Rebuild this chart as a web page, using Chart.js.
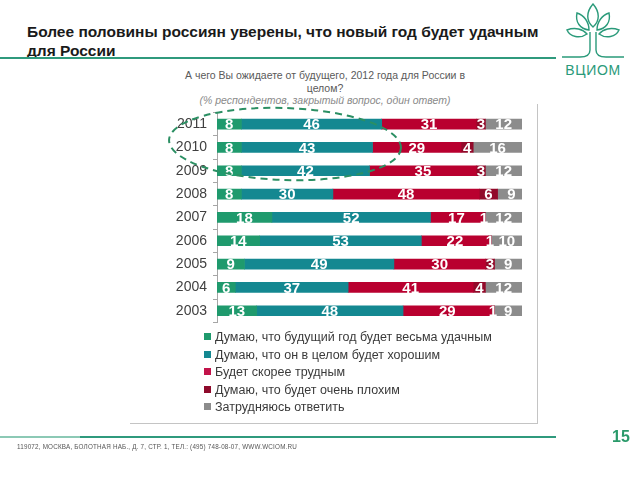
<!DOCTYPE html>
<html lang="ru">
<head>
<meta charset="utf-8">
<title>ВЦИОМ — ожидания от 2012 года</title>
<script src="https://cdn.jsdelivr.net/npm/chart.js@4.4.1/dist/chart.umd.min.js"></script>
<style>
  html, body { margin: 0; padding: 0; background: #fff; }
  body { width: 640px; height: 480px; position: relative; overflow: hidden; font-family: "Liberation Sans", Arial, sans-serif; }
  .title { position: absolute; left: 27px; top: 22px; font-size: 15.5px; font-weight: bold; color: #1a1a1a; line-height: 19px; }
  .rule { position: absolute; left: 0; width: 556px; height: 2px; background: #2f9a7d; }
  .rule.top { top: 57px; }
  .rule.bottom { top: 436px; }
  .rule .lite { position: absolute; left: 0; top: 0; width: 80px; height: 2px; background: #8cc9b5; }
  .question { position: absolute; left: 145px; width: 360px; top: 69px; text-align: center; font-size: 10.5px; color: #5a5a5a; line-height: 12.5px; }
  .question i { color: #8a8a8a; }
  .box { position: absolute; left: 130px; top: 104px; width: 407px; height: 319px; border-right: 1px solid #c4c4c4; border-bottom: 1px solid #c4c4c4; }
  #chartWrap { position: absolute; left: 130px; top: 112px; width: 400px; height: 210px; }
  #legend { position: absolute; left: 204px; top: 329px; font-size: 12.5px; color: #3a3a3a; }
  #legend div { height: 17.6px; line-height: 17.6px; white-space: nowrap; }
  #legend span { display: inline-block; width: 7px; height: 7px; margin-right: 4px; vertical-align: 1px; }
  .oval { position: absolute; left: 0; top: 0; pointer-events: none; }
  .footer { position: absolute; left: 17px; top: 443px; font-size: 6.3px; color: #555; letter-spacing: 0.2px; }
  .page { position: absolute; left: 612px; top: 428px; font-size: 16px; font-weight: bold; color: #2a9a6a; }
  .logo { position: absolute; left: 556px; top: 2px; }
</style>
</head>
<body>

<div class="title">Более половины россиян уверены, что новый год будет удачным<br>для России</div>
<div class="rule top"></div>

<svg class="logo" width="80" height="78" viewBox="0 0 80 78">
  <g fill="none" stroke="#2a9a7a" stroke-width="1.4">
    <path d="M37 2 C30 10 30 19 37 25 C44 19 44 10 37 2 Z"/>
    <path d="M21 11 C19 20 24 27 33 28 C33 20 28 13 21 11 Z"/>
    <path d="M53 11 C55 20 50 27 41 28 C41 20 46 13 53 11 Z"/>
    <path d="M11 28 C14 35 24 37 31 32 C27 27 19 25 11 28 Z"/>
    <path d="M63 28 C60 35 50 37 43 32 C47 27 55 25 63 28 Z"/>
    <path d="M34 30 L34 48 C34 53 30 55 24 55 L6 55"/>
    <path d="M40 30 L40 48 C40 53 44 55 50 55 L68 55"/>
  </g>
  <text x="37" y="73" text-anchor="middle" font-family="Liberation Sans, Arial, sans-serif" font-size="14" fill="#2a9a7a" letter-spacing="0.6">ВЦИОМ</text>
</svg>

<div class="question">А чего Вы ожидаете от будущего, 2012 года для России в<br>целом?<br><i>(% респондентов, закрытый вопрос, один ответ)</i></div>

<div class="box"></div>
<div id="chartWrap"><canvas id="chartExpect"></canvas></div>
<div id="legend"></div>

<svg class="oval" width="640" height="480">
  <ellipse cx="285" cy="144" rx="116" ry="36" fill="none" stroke="#2b8f63" stroke-width="2" stroke-dasharray="7 5" transform="rotate(2 285 144)"/>
</svg>

<div class="rule bottom"><div class="lite"></div></div>
<div class="footer">119072, МОСКВА, БОЛОТНАЯ НАБ., Д. 7, СТР. 1, ТЕЛ.: (495) 748-08-07, WWW.WCIOM.RU</div>
<div class="page">15</div>

<script>
// ДАННЫЕ
const years = ['2011', '2010', '2009', '2008', '2007', '2006', '2005', '2004', '2003'];
const seriesNames = [
  'Думаю, что будущий  год будет весьма удачным',
  'Думаю, что он в целом будет хорошим',
  'Будет скорее трудным',
  'Думаю, что будет очень плохим',
  'Затрудняюсь ответить'
];
const veryGood = [8, 8, 8, 8, 18, 14, 9, 6, 13];
const good = [46, 43, 42, 30, 52, 53, 49, 37, 48];
const hard = [31, 29, 35, 48, 17, 22, 30, 41, 29];
const veryBad = [3, 4, 3, 6, 1, 1, 3, 4, 1];
const dontKnow = [12, 16, 12, 9, 12, 10, 9, 12, 9];

const seriesColors = ['#1f9a6d', '#148891', '#b9002f', '#920a2a', '#8c8c8c'];
const legendColors = ['#1f9a6d', '#148891', '#c2134a', '#8e0a2b', '#8c8c8c'];

(function() {
  'use strict';

  const values = [veryGood, good, hard, veryBad, dontKnow];

  // подписи значений внутри сегментов
  const valueLabels = {
    id: 'valueLabels',
    afterDatasetsDraw(chart) {
      const ctx = chart.ctx;
      ctx.save();
      ctx.fillStyle = '#ffffff';
      ctx.font = 'bold 15px "Liberation Sans", Arial, sans-serif';
      ctx.textAlign = 'center';
      ctx.textBaseline = 'middle';
      chart.data.datasets.forEach((ds, i) => {
        const meta = chart.getDatasetMeta(i);
        meta.data.forEach((bar, j) => {
          const cx = (bar.x + bar.base) / 2;
          ctx.fillText(String(ds.data[j]), cx, bar.y + 1);
        });
      });
      ctx.restore();
    }
  };

  const wrap = document.getElementById('chartWrap');
  const ctx = document.getElementById('chartExpect');
  const chart = new Chart(ctx, {
    type: 'bar',
    data: {
      labels: years,
      datasets: values.map((arr, i) => ({
        label: seriesNames[i],
        data: arr,
        backgroundColor: seriesColors[i],
        borderWidth: 0,
        barThickness: 10
      }))
    },
    options: {
      indexAxis: 'y',
      responsive: true,
      maintainAspectRatio: false,
      animation: false,
      layout: { padding: { left: 0, right: 8, top: 0, bottom: 0 } },
      plugins: {
        legend: { display: false },
        tooltip: { enabled: false }
      },
      scales: {
        x: {
          stacked: true,
          min: 0,
          max: 100,
          display: false
        },
        y: {
          stacked: true,
          afterFit(scale) { scale.width = 87; },
          border: { display: true, color: '#a6a6a6', width: 1 },
          grid: {
            display: true,
            drawOnChartArea: false,
            drawTicks: true,
            tickLength: 4,
            offset: true,
            color: '#a6a6a6'
          },
          ticks: {
            color: '#404040',
            padding: 6,
            font: { size: 14, family: '"Liberation Sans", Arial, sans-serif' }
          }
        }
      }
    },
    plugins: [valueLabels]
  });

  // ПОДГОНКА ОБЛАСТИ ГРАФИКА (ряды 2011..2003 на y ~112..322)
  const area = chart.chartArea;
  const lostTop = area.top;
  const lostBottom = chart.height - area.bottom;
  if (lostTop > 0 || lostBottom > 0) {
    wrap.style.top = (112 - lostTop) + 'px';
    wrap.style.height = (210 + lostTop + lostBottom) + 'px';
    chart.resize();
  }

  // ЛЕГЕНДА
  const legend = document.getElementById('legend');
  chart.data.datasets.forEach((ds, i) => {
    const row = document.createElement('div');
    const sw = document.createElement('span');
    sw.style.background = legendColors[i];
    row.appendChild(sw);
    row.appendChild(document.createTextNode(ds.label));
    legend.appendChild(row);
  });
})();
</script>
</body>
</html>
